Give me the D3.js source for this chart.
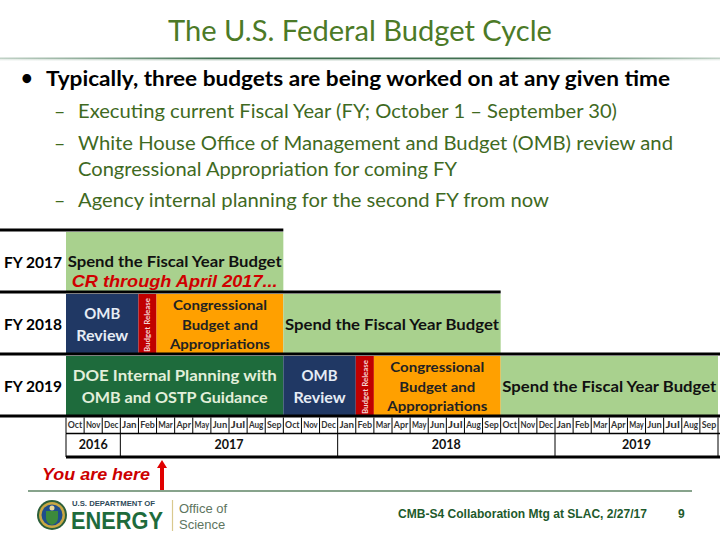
<!DOCTYPE html>
<html>
<head>
<meta charset="utf-8">
<script src="https://cdn.jsdelivr.net/npm/d3@7"></script>
<style>
  html, body { margin: 0; padding: 0; background: #fff; }
  svg { display: block; }
</style>
</head>
<body>
<svg id="chart" width="720" height="540"></svg>
<script>
// ---------------- DATA ----------------
const fyLabels = ["FY 2017", "FY 2018", "FY 2019"];
const monthLabels = [
  "Oct","Nov","Dec","Jan","Feb","Mar","Apr","May","Jun","Jul","Aug","Sep",
  "Oct","Nov","Dec","Jan","Feb","Mar","Apr","May","Jun","Jul","Aug","Sep",
  "Oct","Nov","Dec","Jan","Feb","Mar","Apr","May","Jun","Jul","Aug","Sep"
];
const yearLabels = ["2016", "2017", "2018", "2019"];
const yearStart = [0, 3, 15, 27];   // month index where each calendar year begins
const yearEnd   = [3, 15, 27, 36];

// Gantt segments (month index from Oct 2016)
const segFY    = ["FY 2017","FY 2018","FY 2018","FY 2018","FY 2018","FY 2019","FY 2019","FY 2019","FY 2019","FY 2019"];
const segPhase = ["Spend","OMB","Release","Congress","Spend","Planning","OMB","Release","Congress","Spend"];
const segStart = [0, 0, 4, 5, 12, 0, 12, 16, 17, 24];
const segEnd   = [12, 4, 5, 12, 24, 12, 16, 17, 24, 36];

const phaseLines = {
  Spend: ["Spend the Fiscal Year Budget"],
  OMB: ["OMB", "Review"],
  Release: ["Budget Release"],
  Congress: ["Congressional", "Budget and", "Appropriations"],
  Planning: ["DOE Internal Planning with", "OMB and OSTP Guidance"]
};
const annotation = "CR through April 2017...";
const youAreHere = 5.3;   // month index of "now" (late Feb 2017)

const titleText = "The U.S. Federal Budget Cycle";
const bulletMain = "Typically, three budgets are being worked on at any given time";
const subBullets = [
  ["Executing current Fiscal Year (FY; October 1 \u2013 September 30)"],
  ["White House Office of Management and Budget (OMB) review and", "Congressional Appropriation for coming FY"],
  ["Agency internal planning for the second FY from now"]
];
const footerText = "CMB-S4 Collaboration Mtg at SLAC, 2/27/17";
const pageNum = "9";

// ---------------- STYLES ----------------
const phaseFill = { Spend: "#A9D18E", OMB: "#203864", Release: "#C00000", Congress: "#FFA000", Planning: "#1E6B3C" };
const phaseText = { Spend: "#111", OMB: "#E6ECF5", Release: "#F4D6D6", Congress: "#222", Planning: "#E2EFDA" };
const FONT = "Lato, 'Open Sans', sans-serif";

const svg = d3.select("#chart");

// ---------------- HEADER ----------------
svg.append("text").attr("x", 168).attr("y", 41)
  .attr("font-family", FONT).attr("font-size", 29).attr("fill", "#4C7A27")
  .attr("textLength", 384).attr("lengthAdjust", "spacingAndGlyphs")
  .text(titleText);

const defs = svg.append("defs");
const lg = defs.append("linearGradient").attr("id", "hdr").attr("x1", "0%").attr("x2", "100%");
lg.append("stop").attr("offset", "0%").attr("stop-color", "#4E7E5E").attr("stop-opacity", 0.35);
lg.append("stop").attr("offset", "30%").attr("stop-color", "#3F6F50").attr("stop-opacity", 1);
lg.append("stop").attr("offset", "70%").attr("stop-color", "#3F6F50").attr("stop-opacity", 1);
lg.append("stop").attr("offset", "100%").attr("stop-color", "#4E7E5E").attr("stop-opacity", 0.35);
svg.append("rect").attr("x", 0).attr("y", 57.5).attr("width", 720).attr("height", 1.6).attr("fill", "url(#hdr)");
svg.append("rect").attr("x", 0).attr("y", 59.2).attr("width", 720).attr("height", 1.2).attr("fill", "url(#hdr)").attr("opacity", 0.35);

svg.append("text").attr("x", 21).attr("y", 85).attr("font-family", FONT).attr("font-size", 20)
  .attr("font-weight", 700).attr("fill", "#000").text("\u2022");
svg.append("text").attr("x", 46).attr("y", 86).attr("font-family", FONT).attr("font-size", 20)
  .attr("font-weight", 700).attr("fill", "#000")
  .attr("textLength", 624).attr("lengthAdjust", "spacingAndGlyphs").text(bulletMain);

const subBase = [118, 150, 207];
const subWidths = [[539], [595, 379], [471]];
subBullets.forEach((lines, i) => {
  svg.append("text").attr("x", 54).attr("y", subBase[i]).attr("font-family", FONT)
    .attr("font-size", 19.5).attr("fill", "#3F6A1F").text("\u2013");
  lines.forEach((ln, j) => {
    svg.append("text").attr("x", 78).attr("y", subBase[i] + j * 25.7).attr("font-family", FONT)
      .attr("font-size", 19.5).attr("fill", "#3F6A1F")
      .attr("textLength", subWidths[i][j]).attr("lengthAdjust", "spacingAndGlyphs").text(ln);
  });
});

// ---------------- GANTT ----------------
const x = d3.scaleLinear().domain([0, 36]).range([66, 718]);
const y = d3.scaleBand().domain(fyLabels).range([230, 416]).paddingInner(0).paddingOuter(0);
const rowH = y.bandwidth();

const g = svg.append("g");

// segments
const segs = segFY.map((fy, i) => ({ fy, phase: segPhase[i], s: segStart[i], e: segEnd[i] }));
g.selectAll("rect.seg").data(segs).join("rect").attr("class", "seg")
  .attr("x", d => x(d.s)).attr("width", d => x(d.e) - x(d.s))
  .attr("y", d => y(d.fy) + 2).attr("height", rowH - 3)
  .attr("fill", d => phaseFill[d.phase]);

// row top borders (extend to the row's last segment)
fyLabels.forEach((fy, i) => {
  const end = d3.max(segs.filter(d => d.fy === fy), d => d.e);
  g.append("line").attr("x1", 0).attr("x2", i === fyLabels.length - 1 ? 720 : x(end))
    .attr("y1", y(fy)).attr("y2", y(fy)).attr("stroke", "#000").attr("stroke-width", 3);
});
g.append("line").attr("x1", 0).attr("x2", 720).attr("y1", 416).attr("y2", 416)
  .attr("stroke", "#000").attr("stroke-width", 3);

// row labels
g.selectAll("text.fy").data(fyLabels).join("text").attr("class", "fy")
  .attr("x", 4).attr("y", d => y(d) + rowH / 2 + 3)
  .attr("dominant-baseline", "middle")
  .attr("font-family", FONT).attr("font-size", 14.5).attr("font-weight", 700).attr("fill", "#000")
  .attr("textLength", 58).attr("lengthAdjust", "spacingAndGlyphs")
  .text(d => d);

// segment labels
const widthFor = { "Spend the Fiscal Year Budget": 214, "OMB": 36, "Review": 52, "Congressional": 94,
  "Budget and": 76, "Appropriations": 100, "DOE Internal Planning with": 204, "OMB and OSTP Guidance": 186 };
segs.forEach(d => {
  const cx = (x(d.s) + x(d.e)) / 2;
  const cy = y(d.fy) + rowH / 2 + 3;
  const lines = phaseLines[d.phase];
  if (d.phase === "Release") {
    g.append("text").attr("transform", `translate(${cx + 1},${cy - 1}) rotate(-90)`)
      .attr("text-anchor", "middle").attr("dominant-baseline", "middle")
      .attr("font-family", FONT).attr("font-size", 7).attr("font-weight", 700)
      .attr("fill", phaseText[d.phase])
      .attr("textLength", 54).attr("lengthAdjust", "spacingAndGlyphs")
      .text(lines[0]);
    return;
  }
  const lh = d.phase === "Congress" ? 19.5 : 22;
  const fs = d.phase === "Congress" ? 14 : 15;
  let off = d.fy === "FY 2017" ? -1 : 0;
  lines.forEach((ln, j) => {
    g.append("text").attr("x", cx).attr("y", cy + off + (j - (lines.length - 1) / 2) * lh)
      .attr("text-anchor", "middle").attr("dominant-baseline", "middle")
      .attr("font-family", FONT).attr("font-size", fs).attr("font-weight", 700)
      .attr("fill", phaseText[d.phase])
      .attr("textLength", widthFor[ln]).attr("lengthAdjust", "spacingAndGlyphs")
      .text(ln);
  });
});

// CR annotation
g.append("text").attr("x", (x(0) + x(12)) / 2).attr("y", y("FY 2017") + 57)
  .attr("text-anchor", "middle")
  .attr("font-family", "'Liberation Sans', Arial, sans-serif").attr("font-size", 17)
  .attr("font-weight", 700).attr("font-style", "italic").attr("fill", "#D00000")
  .attr("textLength", 206).attr("lengthAdjust", "spacingAndGlyphs")
  .text(annotation);

// month axis row
const mTop = 417.5, mBot = 433.5, yBot = 457;
const monthIdx = d3.range(monthLabels.length);
g.selectAll("line.mdiv").data(d3.range(monthLabels.length + 1)).join("line").attr("class", "mdiv")
  .attr("x1", d => x(d)).attr("x2", d => x(d)).attr("y1", mTop).attr("y2", mBot)
  .attr("stroke", "#000").attr("stroke-width", 1);
g.selectAll("text.month").data(monthIdx).join("text").attr("class", "month")
  .attr("x", d => x(d + 0.5)).attr("y", (mTop + mBot) / 2 + 0.5)
  .attr("text-anchor", "middle").attr("dominant-baseline", "middle")
  .attr("font-family", FONT).attr("font-size", 8.5).attr("font-weight", 700).attr("fill", "#333")
  .attr("textLength", 14.5).attr("lengthAdjust", "spacingAndGlyphs")
  .text(d => monthLabels[d]);
g.append("line").attr("x1", x(0)).attr("x2", 720).attr("y1", mBot).attr("y2", mBot)
  .attr("stroke", "#000").attr("stroke-width", 1.5);

// year row
g.selectAll("line.ydiv").data(yearStart.concat([36])).join("line").attr("class", "ydiv")
  .attr("x1", d => x(d)).attr("x2", d => x(d)).attr("y1", mBot).attr("y2", yBot)
  .attr("stroke", "#000").attr("stroke-width", 1);
g.selectAll("text.year").data(yearLabels).join("text").attr("class", "year")
  .attr("x", (d, i) => (x(yearStart[i]) + x(yearEnd[i])) / 2).attr("y", (mBot + yBot) / 2 + 0.5)
  .attr("text-anchor", "middle").attr("dominant-baseline", "middle")
  .attr("font-family", FONT).attr("font-size", 12.5).attr("font-weight", 700).attr("fill", "#111")
  .text(d => d);
g.append("line").attr("x1", x(0)).attr("x2", 720).attr("y1", yBot).attr("y2", yBot)
  .attr("stroke", "#000").attr("stroke-width", 3);

// "You are here"
svg.append("text").attr("x", 42).attr("y", 480)
  .attr("font-family", "'Liberation Sans', Arial, sans-serif").attr("font-size", 17)
  .attr("font-weight", 700).attr("font-style", "italic").attr("fill", "#CC0000")
  .attr("textLength", 108).attr("lengthAdjust", "spacingAndGlyphs").text("You are here");
const ax = x(youAreHere);
svg.append("line").attr("x1", ax).attr("x2", ax).attr("y1", 490).attr("y2", 467)
  .attr("stroke", "#E00000").attr("stroke-width", 4);
svg.append("path").attr("d", `M${ax - 5},${468} L${ax},${460} L${ax + 5},${468} Z`).attr("fill", "#E00000");

// footer line
svg.append("line").attr("x1", 28).attr("x2", 692).attr("y1", 491).attr("y2", 491)
  .attr("stroke", "#5F8466").attr("stroke-width", 1.5);

// DOE logo (approximation)
const seal = svg.append("g").attr("transform", "translate(52,515)");
seal.append("circle").attr("r", 15).attr("fill", "#2B5F3A");
seal.append("circle").attr("r", 13).attr("fill", "#C9A844");
seal.append("circle").attr("r", 10.5).attr("fill", "#1F4E8C");
seal.append("path").attr("d", "M-6,-4 L6,-4 L6,3 Q6,8 0,10 Q-6,8 -6,3 Z").attr("fill", "#3C8A3C");
seal.append("circle").attr("cx", 0).attr("cy", -7).attr("r", 2.5).attr("fill", "#E8D79A");
svg.append("text").attr("x", 72).attr("y", 505.5)
  .attr("font-family", "'Liberation Sans', Arial, sans-serif").attr("font-size", 6.5).attr("font-weight", 700)
  .attr("fill", "#2E4A5A").attr("textLength", 83).attr("lengthAdjust", "spacingAndGlyphs")
  .text("U.S. DEPARTMENT OF");
svg.append("text").attr("x", 71).attr("y", 529)
  .attr("font-family", "'Liberation Sans', Arial, sans-serif").attr("font-size", 23.5).attr("font-weight", 700)
  .attr("fill", "#1E6B3C").attr("textLength", 92).attr("lengthAdjust", "spacingAndGlyphs")
  .text("ENERGY");
svg.append("line").attr("x1", 172.5).attr("x2", 172.5).attr("y1", 500).attr("y2", 531)
  .attr("stroke", "#D9C98F").attr("stroke-width", 1.2);
svg.append("text").attr("x", 179).attr("y", 513)
  .attr("font-family", "'Liberation Sans', Arial, sans-serif").attr("font-size", 13)
  .attr("fill", "#5E7560").text("Office of");
svg.append("text").attr("x", 179).attr("y", 529)
  .attr("font-family", "'Liberation Sans', Arial, sans-serif").attr("font-size", 13)
  .attr("fill", "#5E7560").text("Science");

// footer text
svg.append("text").attr("x", 398).attr("y", 518)
  .attr("font-family", "'Liberation Sans', Arial, sans-serif").attr("font-size", 12).attr("font-weight", 700)
  .attr("fill", "#1E5A2C").attr("textLength", 249).attr("lengthAdjust", "spacingAndGlyphs")
  .text(footerText);
svg.append("text").attr("x", 678).attr("y", 518)
  .attr("font-family", "'Liberation Sans', Arial, sans-serif").attr("font-size", 12).attr("font-weight", 700)
  .attr("fill", "#1E5A2C").text(pageNum);
</script>
</body>
</html>
